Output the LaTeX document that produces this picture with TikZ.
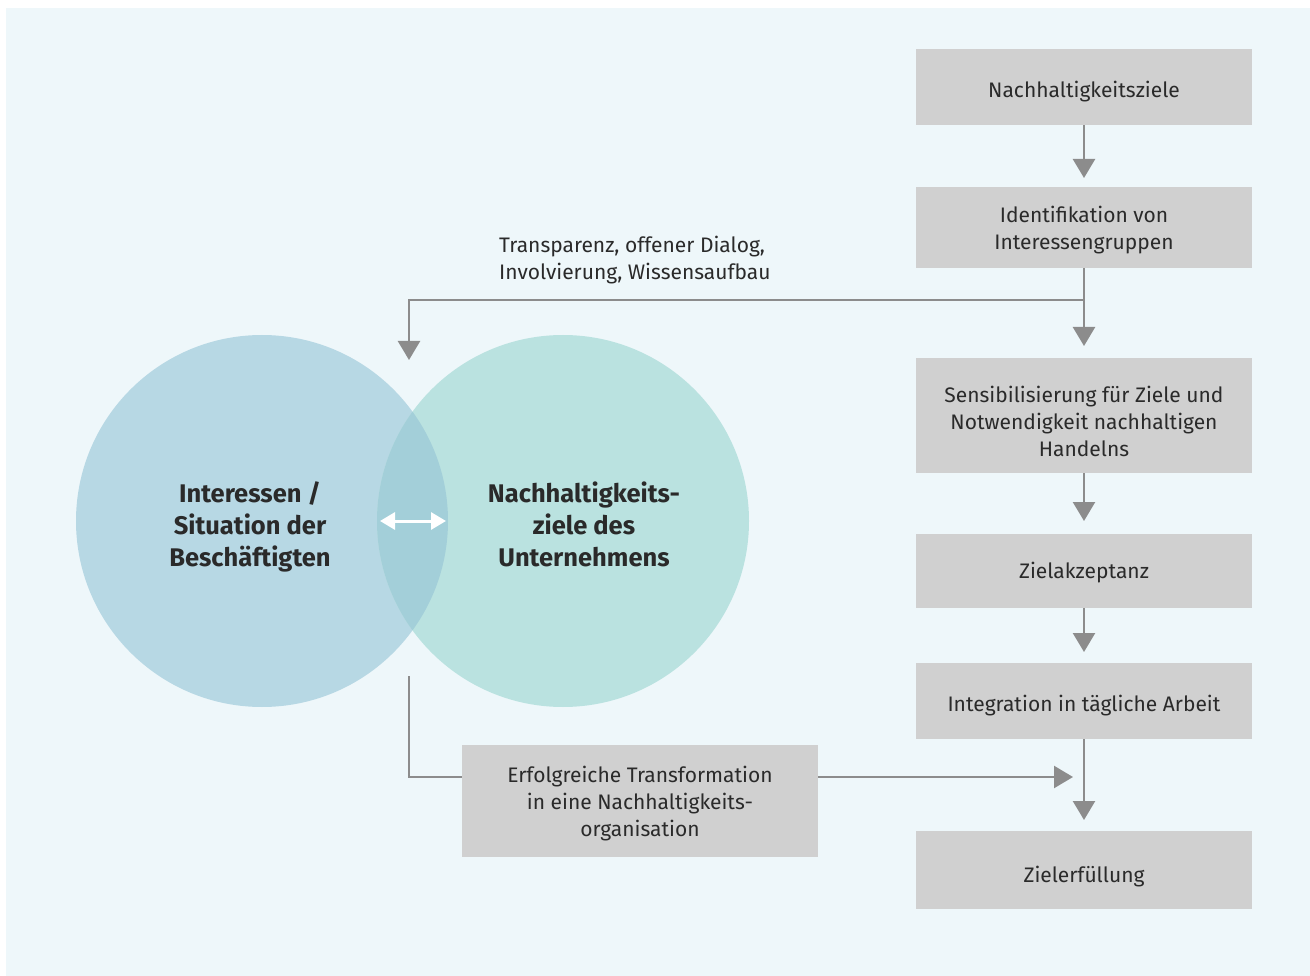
\documentclass[tikz,border=0pt]{standalone}
\usepackage{fontspec}
\setmainfont{Fira Sans}
\usetikzlibrary{arrows.meta}
\definecolor{bgblue}{HTML}{EEF7FA}
\definecolor{boxgray}{HTML}{D0D0D0}
\definecolor{linegray}{HTML}{8C8C8C}
\definecolor{leftc}{HTML}{B7D8E4}
\definecolor{rightc}{HTML}{BAE2E0}
\definecolor{interc}{HTML}{A3CFD9}
\definecolor{txt}{HTML}{2A2A2A}
\newcommand{\dn}[2]{\raisebox{-#1}[\height][\depth]{\parbox{320pt}{\centering #2}}}
\tikzset{
  stepbox/.style={fill=boxgray, draw=none, minimum width=336pt, align=center, text=txt, inner sep=0pt,
    font=\fontsize{21}{27}\selectfont},
  conn/.style={draw=linegray, line width=2.4pt},
  arr/.style={conn, -{Triangle[width=22pt,length=19pt]}},
  bold label/.style={align=center, text=txt, font=\fontsize{25.5}{32}\selectfont\bfseries},
}
\begin{document}
\begin{tikzpicture}[x=1pt,y=-1pt]
\useasboundingbox (0,0) rectangle (1310,976);
\fill[white] (0,0) rectangle (1310,976);
\fill[bgblue] (6,8) rectangle (1310,976);

% circles
\fill[leftc] (262,521) circle (186);
\fill[rightc] (563,521) circle (186);
\begin{scope}
\clip (262,521) circle (186);
\fill[interc] (563,521) circle (186);
\end{scope}
\node[bold label] (cl) at (250,527) {Interessen /\\Situation der\\Besch\"aftigten};
\node[bold label] (cr) at (584,524) {Nachhaltigkeits-\\ziele des\\Unternehmens};
\coordinate (dl) at (380,521);
\coordinate (dr) at (446,521);
\draw[white, line width=3pt, {Triangle[width=17pt,length=15pt]}-{Triangle[width=17pt,length=15pt]}] (dl) -- (dr);

% right boxes
\node[stepbox, minimum height=76pt] (b1) at (1084,87) {\dn{5pt}{Nachhaltigkeitsziele}};
\node[stepbox, minimum height=81pt] (b2) at (1084,227.5) {\dn{3pt}{Identifikation von\\Interessengruppen}};
\node[stepbox, minimum height=115pt] (b3) at (1084,415.5) {\dn{6pt}{Sensibilisierung f\"ur Ziele und\\Notwendigkeit nachhaltigen\\Handelns}};
\node[stepbox, minimum height=74pt] (b4) at (1084,571) {\dn{2pt}{Zielakzeptanz}};
\node[stepbox, minimum height=76pt] (b5) at (1084,701) {\dn{5pt}{Integration in t\"agliche Arbeit}};
\node[stepbox, minimum height=78pt] (b6) at (1084,870) {\dn{7pt}{Zielerf\"ullung}};
\node[stepbox, minimum width=356pt, minimum height=112pt] (b7) at (640,801) {\dn{3pt}{Erfolgreiche Transformation\\in eine Nachhaltigkeits-\\organisation}};

% label
\node[anchor=west, align=left, text=txt, inner sep=0pt, font=\fontsize{21}{27}\selectfont] (lab) at (499,260) {Transparenz, offener Dialog,\\Involvierung, Wissensaufbau};

% connectors
\coordinate (t1) at (1084,178);
\coordinate (br) at (1084,300);
\coordinate (t2) at (1084,346);
\coordinate (lt) at (409,360);
\coordinate (t3) at (1084,521);
\coordinate (t4) at (1084,652);
\coordinate (t5) at (1084,820);
\coordinate (ls) at (409,676);
\coordinate (lc) at (462,777);
\coordinate (rt) at (1073,777);

\draw[arr] (b1) -- (t1);
\draw[arr] (b2) -- (t2);
\draw[arr] (br) -| (lt);
\draw[arr] (b3) -- (t3);
\draw[arr] (b4) -- (t4);
\draw[arr] (b5) -- (t5);
\draw[conn] (ls) |- (lc);
\draw[arr] (b7.east |- lc) -- (rt);
\end{tikzpicture}
\end{document}
